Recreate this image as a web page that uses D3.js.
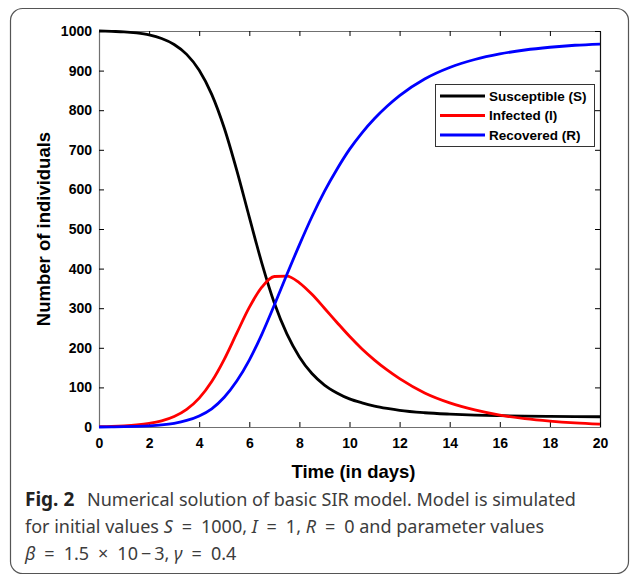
<!DOCTYPE html>
<html>
<head>
<meta charset="utf-8">
<script src="https://cdn.jsdelivr.net/npm/d3@7"></script>
<style>
  body { margin: 0; background: #fff; }
  svg { display: block; }
  .tick text { font-family: "Liberation Sans", Arial, sans-serif; font-weight: bold; font-size: 14px; fill: #000; }
</style>
</head>
<body>
<div id="chart"></div>
<script>
// time points (days) and the three compartments
let days = [0, 0.5, 1, 1.5, 2, 2.5, 3, 3.5, 4, 4.5, 5, 5.5, 6, 6.5, 7, 7.5, 8, 8.5, 9, 9.5,
    10, 10.5, 11, 11.5, 12, 13, 14, 15, 16, 17, 18, 19, 20];
let susceptible = [1000, 999, 998, 995, 990, 981, 966, 941, 901, 840, 755, 648, 530, 414, 313, 235,
    177, 135, 106, 86, 71, 61, 53, 47, 42, 36, 32.5, 30, 28.5, 27.4, 26.7, 26.2, 25.9];
let infected = [1, 1.7, 3, 5.2, 9, 15.5, 26.5, 44.5, 73, 115, 171, 237, 302, 353, 380, 381,
    364, 335, 300, 264, 229, 197, 169, 144, 122, 86, 61, 43, 30, 21, 14.7, 10.2, 7.1];
let recovered = [0, 0.3, 0.7, 1.5, 2.9, 5.3, 9.4, 16.5, 28, 46, 75, 116, 169, 234, 308, 385,
    460, 531, 595, 651, 701, 743, 779, 810, 837, 879, 908, 928, 942, 952, 959, 964, 967];

let seriesNames = ["Susceptible (S)", "Infected (I)", "Recovered (R)"];
let seriesColors = ["#000000", "#ff0000", "#0000ff"];
let xTicks = [0, 2, 4, 6, 8, 10, 12, 14, 16, 18, 20];
let yTicks = [0, 100, 200, 300, 400, 500, 600, 700, 800, 900, 1000];

let WIDTH = 630, HEIGHT = 577;
let plot = { left: 99, right: 600, top: 31, bottom: 427 };

let svg = d3.select("#chart").append("svg")
    .attr("width", WIDTH)
    .attr("height", HEIGHT);

// rounded frame around figure + caption
svg.append("rect")
    .attr("x", 10.5).attr("y", 8.5)
    .attr("width", 618).attr("height", 565)
    .attr("rx", 12).attr("ry", 12)
    .attr("fill", "#fff")
    .attr("stroke", "#555")
    .attr("stroke-width", 1.2);

let x = d3.scaleLinear().domain([0, 20]).range([plot.left, plot.right]);
let y = d3.scaleLinear().domain([0, 1000]).range([plot.bottom, plot.top]);

function styleAxis(g, domainColor) {
    g.select(".domain").attr("stroke", domainColor).attr("stroke-width", 1.2);
    g.selectAll(".tick line").attr("stroke", "#000").attr("stroke-width", 1);
}

// box axes (ticks point inward)
svg.append("g")
    .attr("transform", `translate(0,${plot.top})`)
    .call(d3.axisTop(x).tickValues(xTicks).tickSize(-5).tickSizeOuter(0).tickFormat(""))
    .call(g => styleAxis(g, "#707070"));
svg.append("g")
    .attr("transform", `translate(${plot.right},0)`)
    .call(d3.axisRight(y).tickValues(yTicks).tickSize(-5).tickSizeOuter(0).tickFormat(""))
    .call(g => styleAxis(g, "#111"));
svg.append("g")
    .attr("transform", `translate(0,${plot.bottom})`)
    .call(d3.axisBottom(x).tickValues(xTicks).tickSize(-5).tickSizeOuter(0).tickPadding(11)
        .tickFormat(d3.format("d")))
    .call(g => styleAxis(g, "#707070"));
svg.append("g")
    .attr("transform", `translate(${plot.left},0)`)
    .call(d3.axisLeft(y).tickValues(yTicks).tickSize(-5).tickSizeOuter(0).tickPadding(7)
        .tickFormat(d3.format("d")))
    .call(g => styleAxis(g, "#707070"));

// curves
let allSeries = [susceptible, infected, recovered];
let line = d3.line()
    .x((d, i) => x(days[i]))
    .y(d => y(d))
    .curve(d3.curveMonotoneX);

svg.append("g").selectAll("path")
    .data(allSeries)
    .join("path")
    .attr("d", d => line(d))
    .attr("fill", "none")
    .attr("stroke", (d, i) => seriesColors[i])
    .attr("stroke-width", 2.8)
    .attr("stroke-linejoin", "round");

// axis titles
svg.append("text")
    .attr("x", (plot.left + plot.right) / 2 + 4)
    .attr("y", 478)
    .attr("text-anchor", "middle")
    .attr("font-family", "Liberation Sans, Arial, sans-serif")
    .attr("font-weight", "bold")
    .attr("font-size", 18.5)
    .text("Time (in days)");

svg.append("text")
    .attr("transform", `translate(50,${(plot.top + plot.bottom) / 2}) rotate(-90)`)
    .attr("text-anchor", "middle")
    .attr("font-family", "Liberation Sans, Arial, sans-serif")
    .attr("font-weight", "bold")
    .attr("font-size", 18.5)
    .text("Number of individuals");

// legend
let legend = svg.append("g").attr("transform", "translate(435,84)");
legend.append("rect")
    .attr("x", 0.5).attr("y", 0.5)
    .attr("width", 159).attr("height", 62)
    .attr("fill", "#fff")
    .attr("stroke", "#333")
    .attr("stroke-width", 1);

let rows = legend.selectAll("g.row")
    .data(seriesNames)
    .join("g")
    .attr("class", "row")
    .attr("transform", (d, i) => `translate(0,${12 + i * 19.5})`);
rows.append("line")
    .attr("x1", 5).attr("x2", 50)
    .attr("y1", 0).attr("y2", 0)
    .attr("stroke", (d, i) => seriesColors[i])
    .attr("stroke-width", 2.8);
rows.append("text")
    .attr("x", 54)
    .attr("y", 0)
    .attr("dy", "0.36em")
    .attr("font-family", "Liberation Sans, Arial, sans-serif")
    .attr("font-weight", "bold")
    .attr("font-size", 13.5)
    .text(d => d);

// caption
let EQ = "\u2002=\u2002";
let caption = svg.append("g")
    .attr("font-family", "Noto Sans, Open Sans, sans-serif")
    .attr("font-size", 18)
    .attr("fill", "#3c3c3c");

let line1 = caption.append("text").attr("x", 25).attr("y", 506);
line1.append("tspan").attr("font-weight", "bold").attr("font-size", 19).attr("fill", "#222").text("Fig. 2");
line1.append("tspan").attr("x", 87).text("Numerical solution of basic SIR model. Model is simulated");

let line2 = caption.append("text").attr("x", 25).attr("y", 533);
line2.append("tspan").text("for initial values ");
line2.append("tspan").attr("font-style", "italic").text("S");
line2.append("tspan").text(EQ + "1000, ");
line2.append("tspan").attr("font-style", "italic").text("I");
line2.append("tspan").text(EQ + "1, ");
line2.append("tspan").attr("font-style", "italic").text("R");
line2.append("tspan").text(EQ + "0 and parameter values");

let line3 = caption.append("text").attr("x", 25).attr("y", 560);
line3.append("tspan").attr("font-style", "italic").text("β");
line3.append("tspan").text(EQ + "1.5\u2002×\u200210\u2009−\u20093, ");
line3.append("tspan").attr("font-style", "italic").text("γ");
line3.append("tspan").text(EQ + "0.4");
</script>
</body>
</html>
